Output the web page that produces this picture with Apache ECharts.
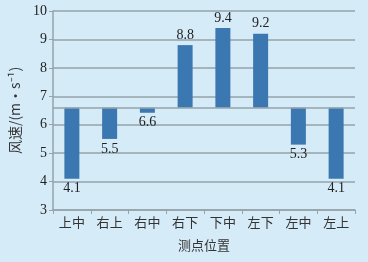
<!DOCTYPE html>
<html><head><meta charset="utf-8">
<script src="https://cdn.jsdelivr.net/npm/echarts@6/dist/echarts.min.js"></script>
<style>html,body{margin:0;padding:0;background:#d5ebf8;}#c{width:368px;height:262px;}</style>
</head><body><div id="c"></div>
<script>
const categories = ['上中','右上','右中','右下','下中','左下','左中','左上'];
const speedLabels = [4.1, 5.5, 6.6, 8.8, 9.4, 9.2, 5.3, 4.1];
const barEnds = [4.1, 5.5, 6.42, 8.8, 9.4, 9.2, 5.3, 4.1];
const baseline = 6.6;
const yTicks = [3,4,5,6,7,8,9,10];

const baseVals = barEnds.map(v => Math.min(v, baseline));
const spanVals = barEnds.map(v => Math.abs(v - baseline));
const serif = '"Liberation Serif", "DejaVu Serif", serif';
const cjk = '"Noto Sans CJK SC", sans-serif';
const gridCol = '#95a3ab';

const chart = echarts.init(document.getElementById('c'));
chart.setOption({
  backgroundColor: '#d5ebf8',
  animation: false,
  grid: {left: 53, right: 13, top: 11, bottom: 52},
  xAxis: {
    type: 'category', data: categories,
    name: '测点位置', nameLocation: 'middle', nameGap: 29,
    nameTextStyle: {fontFamily: cjk, fontSize: 13, color: '#333'},
    axisLine: {lineStyle: {color: gridCol, width: 1.5}},
    axisTick: {show: true, length: 4, lineStyle: {color: gridCol}},
    axisLabel: {fontFamily: cjk, fontSize: 13, color: '#333', margin: 6}
  },
  yAxis: {
    type: 'value', min: yTicks[0], max: yTicks[yTicks.length-1], interval: 1,
    name: '风速/(m·s⁻¹)', nameLocation: 'middle', nameGap: 27,
    nameTextStyle: {fontFamily: cjk, fontSize: 14, color: '#333'},
    axisLine: {show: true, lineStyle: {color: gridCol, width: 1.5}},
    axisTick: {show: true, length: 4, lineStyle: {color: gridCol}},
    axisLabel: {fontFamily: serif, fontSize: 14, color: '#222', margin: 6},
    splitLine: {lineStyle: {color: gridCol, width: 1.5}}
  },
  series: [
    {type: 'bar', stack: 's', data: baseVals, barWidth: 15, itemStyle: {color: 'transparent'}, silent: true,
     markLine: {symbol: 'none', silent: true, label: {show: false}, lineStyle: {color: gridCol, width: 1.5, type: 'solid'}, data: [{yAxis: baseline}]}},
    {type: 'bar', stack: 's', barWidth: 15,
     itemStyle: {color: '#3b77b0'},
     data: spanVals.map((v, i) => ({
       value: v,
       label: {show: true, position: barEnds[i] < baseline ? 'bottom' : 'top', distance: 3,
               formatter: () => speedLabels[i].toFixed(1),
               fontFamily: serif, fontSize: 14, color: '#222'}
     }))}
  ]
});
</script></body></html>
